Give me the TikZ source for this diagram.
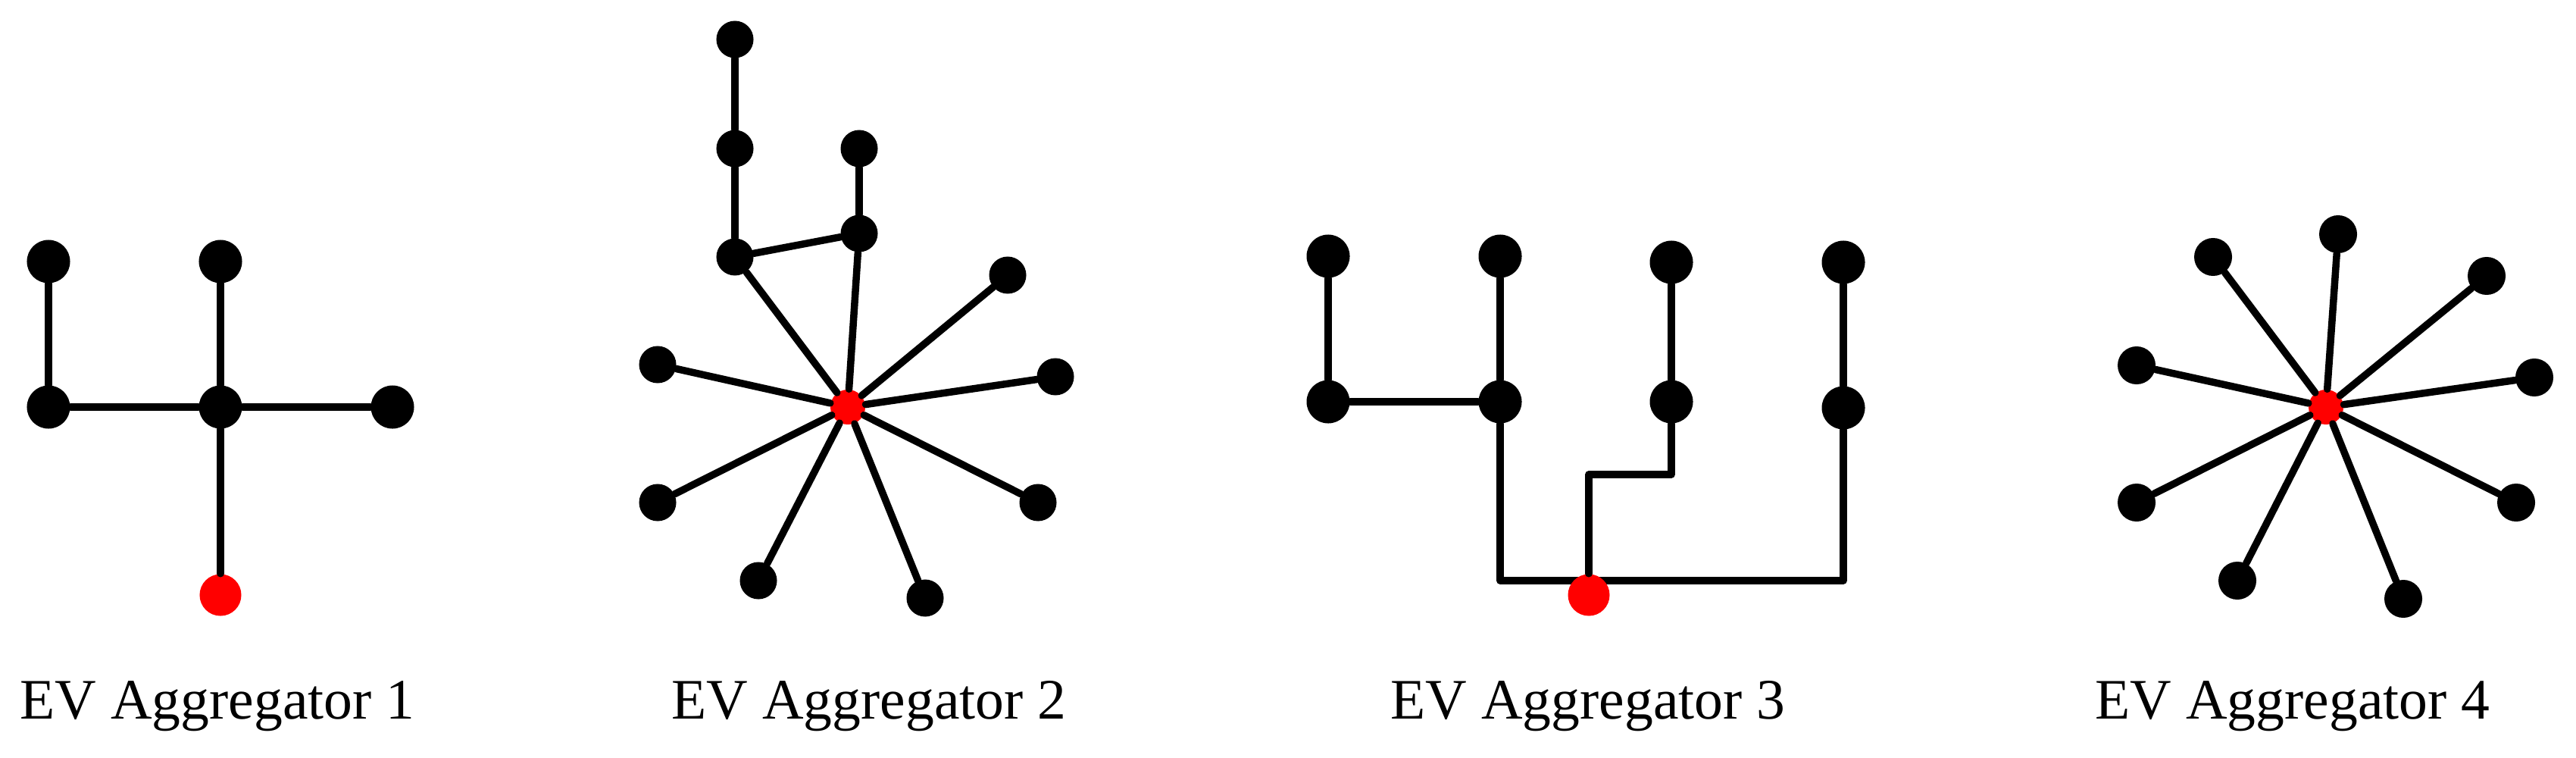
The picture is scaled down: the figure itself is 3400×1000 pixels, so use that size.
\documentclass[tikz,border=0pt]{standalone}
\usepackage{fontspec}
\setmainfont{Liberation Serif}
\begin{document}
\begin{tikzpicture}[x=0.01cm,y=-0.01cm,
  dotA/.style={circle,fill=black,inner sep=0pt,minimum size=0.57cm},
  dotB/.style={circle,fill=black,inner sep=0pt,minimum size=0.49cm},
  hubA/.style={circle,fill=red,inner sep=0pt,minimum size=0.55cm},
  hubB/.style={circle,fill=red,inner sep=0pt,minimum size=0.46cm},
  wire/.style={line width=2.7pt,line cap=round,line join=round},
  lbl/.style={font=\fontsize{21.5}{26}\selectfont,inner sep=0pt,anchor=base}]
\useasboundingbox (0,0) rectangle (3400,1000);

% ---------- Aggregator 1 ----------
\node[dotA] (a1) at (64,345) {};
\node[dotA] (a2) at (291,345) {};
\node[dotA] (a3) at (64,537) {};
\node[dotA] (a4) at (291,537) {};
\node[dotA] (a5) at (518,537) {};
\node[hubA] (ar) at (291,785) {};
\draw[wire] (a1) -- (a3);
\draw[wire] (a2) -- (a4);
\draw[wire] (a3) -- (a4);
\draw[wire] (a4) -- (a5);
\draw[wire] (a4) -- (ar);

% ---------- Aggregator 2 ----------
\node[dotB] (b1) at (970,52) {};
\node[dotB] (b2) at (970,196) {};
\node[dotB] (b3) at (970,339) {};
\node[dotB] (b4) at (1134,196) {};
\node[dotB] (b5) at (1134,308) {};
\node[dotB] (b6) at (1330,363) {};
\node[dotB] (b7) at (1393,497) {};
\node[dotB] (b8) at (1370,663) {};
\node[dotB] (b9) at (1221,789) {};
\node[dotB] (b10) at (1001,766) {};
\node[dotB] (b11) at (868,663) {};
\node[dotB] (b12) at (868,481) {};
\node[hubB] (br) at (1119,537) {};
\draw[wire] (b1) -- (b2);
\draw[wire] (b2) -- (b3);
\draw[wire] (b4) -- (b5);
\draw[wire] (b3) -- (b5);
\foreach \n in {b3,b5,b6,b7,b8,b9,b10,b11,b12}{
  \draw[wire] (\n) -- (br);
}

% ---------- Aggregator 3 ----------
\node[dotA] (c1) at (1753,338) {};
\node[dotA] (c2) at (1980,338) {};
\node[dotA] (c3) at (2206,346) {};
\node[dotA] (c4) at (2433,346) {};
\node[dotA] (c5) at (1753,530) {};
\node[dotA] (c6) at (1980,530) {};
\node[dotA] (c7) at (2206,530) {};
\node[dotA] (c8) at (2433,538) {};
\coordinate (cj1) at (1980,766);
\coordinate (cj2) at (2433,766);
\coordinate (cj3) at (2097,626);
\coordinate (cj4) at (2206,626);
\draw[wire] (c1) -- (c5);
\draw[wire] (c2) -- (c6);
\draw[wire] (c3) -- (c7);
\draw[wire] (c4) -- (c8);
\draw[wire] (c5) -- (c6);
\draw[wire] (c6) -- (cj1) -- (cj2) -- (c8);
\node[hubA] (cr) at (2097,785) {};
\draw[wire] (cr) -- (cj3) -- (cj4) -- (c7);

% ---------- Aggregator 4 ----------
\node[dotB,minimum size=0.5cm] (d1) at (3086,309) {};
\node[dotB,minimum size=0.5cm] (d2) at (2921,339) {};
\node[dotB,minimum size=0.5cm] (d3) at (3282,364) {};
\node[dotB,minimum size=0.5cm] (d4) at (3345,498) {};
\node[dotB,minimum size=0.5cm] (d5) at (3321,663) {};
\node[dotB,minimum size=0.5cm] (d6) at (3172,790) {};
\node[dotB,minimum size=0.5cm] (d7) at (2953,766) {};
\node[dotB,minimum size=0.5cm] (d8) at (2820,663) {};
\node[dotB,minimum size=0.5cm] (d9) at (2820,482) {};
\node[hubB] (dr) at (3070,537) {};
\foreach \n in {d1,d2,d3,d4,d5,d6,d7,d8,d9}{
  \draw[wire] (\n) -- (dr);
}

% ---------- Labels ----------
\node[lbl] (l1) at (287,948) {EV Aggregator 1};
\node[lbl] (l2) at (1147,948) {EV Aggregator 2};
\node[lbl] (l3) at (2096,948) {EV Aggregator 3};
\node[lbl] (l4) at (3026,948) {EV Aggregator 4};
\end{tikzpicture}
\end{document}
